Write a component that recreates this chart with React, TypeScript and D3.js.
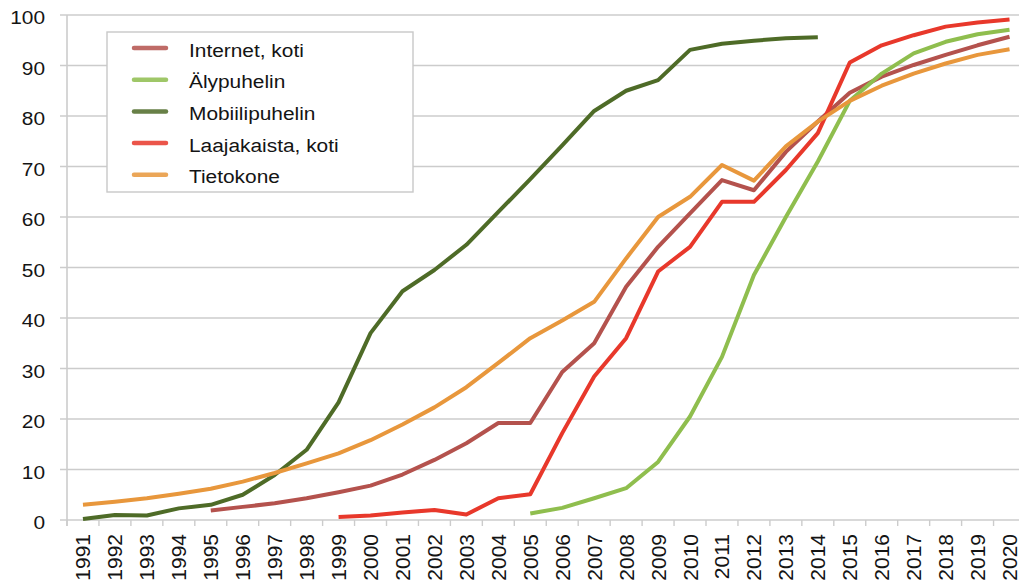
import React from "react";
import * as d3 from "d3";

const years = d3.range(1991, 2021).map(String);
const yTicks = [0, 10, 20, 30, 40, 50, 60, 70, 80, 90, 100];

type V = number | null;
const internetKoti: V[] = [null, null, null, null, 1.9, 2.6, 3.3, 4.3, 5.5, 6.8, 9.0, 11.9, 15.2, 19.2, 19.2, 29.3, 35, 46.2, 54.1, 60.7, 67.3, 65.3, 72.9, 78.9, 84.6, 87.8, 90.1, 92.1, 94, 95.7];
const alypuhelin: V[] = [null, null, null, null, null, null, null, null, null, null, null, null, null, null, 1.3, 2.4, 4.3, 6.3, 11.5, 20.5, 32.3, 48.5, 60, 71, 83, 88.4, 92.4, 94.7, 96.2, 97.1];
const mobiilipuhelin: V[] = [0.2, 1, 0.9, 2.3, 3, 5, 8.9, 13.9, 23.3, 37, 45.3, 49.5, 54.5, 61, 67.5, 74.2, 81, 85, 87.1, 93.1, 94.3, 94.9, 95.4, 95.6, null, null, null, null, null, null];
const laajakaista: V[] = [null, null, null, null, null, null, null, null, 0.6, 0.9, 1.5, 2.0, 1.1, 4.3, 5.1, 17.2, 28.4, 36, 49.2, 54.1, 63, 63, 69.3, 76.6, 90.6, 94, 96, 97.7, 98.5, 99.1];
const tietokone: V[] = [3.0, 3.6, 4.3, 5.2, 6.2, 7.6, 9.3, 11.2, 13.2, 15.8, 18.9, 22.3, 26.3, 31.1, 36, 39.5, 43.2, 51.8, 60, 64, 70.3, 67.2, 74, 78.9, 83, 86, 88.4, 90.4, 92.1, 93.2];

const seriesNames = ["Internet, koti", "Älypuhelin", "Mobiilipuhelin", "Laajakaista, koti", "Tietokone"];
const seriesColors = ["#b4524d", "#8fbe4e", "#4e6b27", "#e8382b", "#e8973c"];
const seriesData = [internetKoti, alypuhelin, mobiilipuhelin, laajakaista, tietokone];

const W = 1019;
const H = 585;
const left = 67;
const right = 1025.5;
const top = 15;
const bottom = 520;

export default function App() {
  const x = d3.scaleBand<string>().domain(years).range([left, right]).padding(0);
  const y = d3.scaleLinear().domain([0, 100]).range([bottom, top]);
  const cx = (i: number) => (x(years[i]) as number) + x.bandwidth() / 2;
  const line = d3
    .line<V>()
    .defined((d) => d !== null)
    .x((_, i) => cx(i))
    .y((d) => y(d as number));

  const font = "'Liberation Sans', Arial, sans-serif";
  const textColor = "#141414";

  return (
    <svg width={W} height={H} style={{ position: "absolute", left: 0, top: 0, background: "#fff" }}>
      <rect x={0} y={0} width={W} height={H} fill="#fff" />
      {yTicks.map((t) => (
        <line key={t} x1={60} x2={W} y1={y(t)} y2={y(t)} stroke="#cccccc" strokeWidth={1.6} />
      ))}
      <line x1={left} x2={left} y1={top} y2={bottom + 6} stroke="#cccccc" strokeWidth={1.6} />
      {years.map((yr) => (
        <line key={"t" + yr} x1={x(yr) as number} x2={x(yr) as number} y1={bottom} y2={bottom + 6} stroke="#cccccc" strokeWidth={1.4} />
      ))}
      {yTicks.map((t) => (
        <g key={"l" + t} transform={`translate(45,${y(t) + 9}) scale(1.16,1)`}>
          <text textAnchor="end" fontFamily={font} fontSize={18} fill={textColor}>
            {t}
          </text>
        </g>
      ))}
      {years.map((yr, i) => (
        <text
          key={"x" + yr}
          transform={`translate(${cx(i) + 7.5},534) rotate(-90)`}
          textAnchor="end"
          fontFamily={font}
          fontSize={21}
          fill={textColor}
        >
          {yr}
        </text>
      ))}
      {seriesData.map((s, k) => (
        <path
          key={"s" + k}
          d={line(s) || ""}
          fill="none"
          stroke={seriesColors[k]}
          strokeWidth={4}
          strokeLinejoin="round"
        />
      ))}
      <rect x={107} y={32} width={306} height={160} fill="#fff" stroke="#c8c8c8" strokeWidth={1.4} />
      {seriesNames.map((n, k) => {
        const yy = 48 + k * 31.7;
        return (
          <g key={"lg" + k}>
            <line x1={134} x2={166} y1={yy} y2={yy} stroke={seriesColors[k]} strokeWidth={4.5} strokeLinecap="round" opacity={0.85} />
            <g transform={`translate(189,${yy + 8.5}) scale(1.16,1)`}>
              <text fontFamily={font} fontSize={18} fill={textColor}>
                {n}
              </text>
            </g>
          </g>
        );
      })}
    </svg>
  );
}
